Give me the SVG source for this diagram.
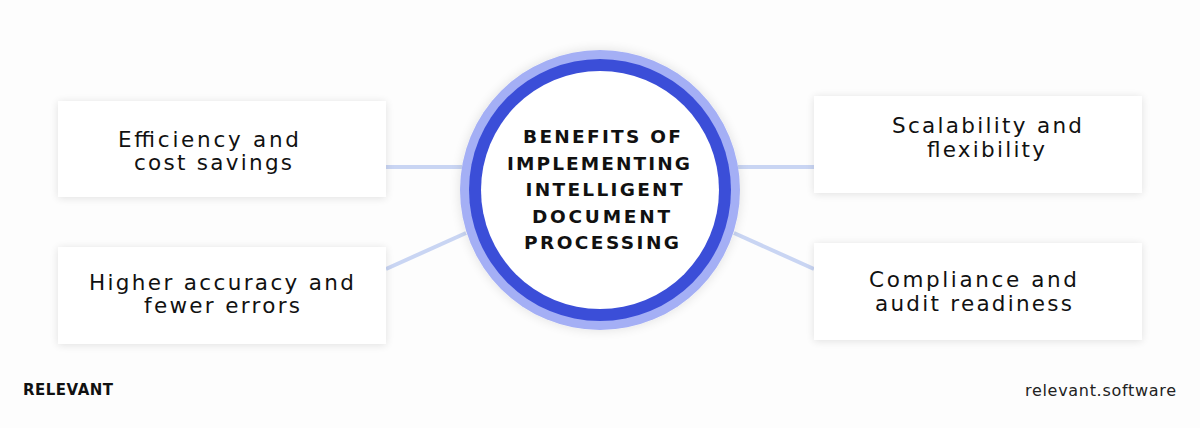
<svg xmlns="http://www.w3.org/2000/svg" width="1200" height="428" viewBox="0 0 1200 428">
  <defs>
    <filter id="shadow" x="-10%" y="-20%" width="120%" height="140%">
      <feGaussianBlur in="SourceAlpha" stdDeviation="4"/>
      <feOffset dx="0" dy="1" result="b"/>
      <feComponentTransfer><feFuncA type="linear" slope="0.12"/></feComponentTransfer>
      <feMerge><feMergeNode/><feMergeNode in="SourceGraphic"/></feMerge>
    </filter>
    <filter id="glow" x="-20%" y="-20%" width="140%" height="140%">
      <feGaussianBlur in="SourceAlpha" stdDeviation="6"/>
      <feComponentTransfer><feFuncA type="linear" slope="0.12"/></feComponentTransfer>
      <feMerge><feMergeNode/><feMergeNode in="SourceGraphic"/></feMerge>
    </filter>
  </defs>
  <style>
    .box { fill: #ffffff; filter: url(#shadow); }
    .lbl { font-family: "DejaVu Sans", "Liberation Sans", sans-serif; font-size: 21.5px; fill: #111111; text-anchor: middle; }
    .ctr { font-family: "DejaVu Sans", "Liberation Sans", sans-serif; font-size: 18.5px; font-weight: bold; fill: #111111; text-anchor: middle; }
    .conn { stroke: #c9d5f3; stroke-width: 4; fill: none; }
  </style>
  <rect x="0" y="0" width="1200" height="428" fill="#fdfdfd"/>

  <g id="connectors">
    <line class="conn" x1="386" y1="167" x2="462" y2="167"/>
    <line class="conn" x1="386" y1="269" x2="466" y2="233"/>
    <line class="conn" x1="738" y1="167" x2="814" y2="167"/>
    <line class="conn" x1="734" y1="233" x2="814" y2="269"/>
  </g>

  <g id="center">
    <circle cx="600" cy="190" r="140" fill="#a4aff5" filter="url(#glow)"/>
    <circle cx="600" cy="190" r="131" fill="#3b4ed8"/>
    <circle cx="600" cy="190" r="119" fill="#ffffff"/>
    <text class="ctr" x="602" y="143" textLength="158" lengthAdjust="spacing">BENEFITS OF</text>
    <text class="ctr" x="598.5" y="169.5" textLength="183" lengthAdjust="spacing">IMPLEMENTING</text>
    <text class="ctr" x="604" y="196" textLength="157" lengthAdjust="spacing">INTELLIGENT</text>
    <text class="ctr" x="601" y="222.5" textLength="138" lengthAdjust="spacing">DOCUMENT</text>
    <text class="ctr" x="601.5" y="249" textLength="155" lengthAdjust="spacing">PROCESSING</text>
  </g>

  <g id="efficiency">
    <rect class="box" x="58" y="101" width="328" height="96"/>
    <text class="lbl" x="208.5" y="147" textLength="181" lengthAdjust="spacing">Efficiency and</text>
    <text class="lbl" x="213" y="170" textLength="158" lengthAdjust="spacing">cost savings</text>
  </g>

  <g id="accuracy">
    <rect class="box" x="58" y="247" width="328" height="97"/>
    <text class="lbl" x="221.5" y="290" textLength="265" lengthAdjust="spacing">Higher accuracy and</text>
    <text class="lbl" x="222" y="313" textLength="156" lengthAdjust="spacing">fewer errors</text>
  </g>

  <g id="scalability">
    <rect class="box" x="814" y="96" width="328" height="97"/>
    <text class="lbl" x="987" y="133" textLength="190" lengthAdjust="spacing">Scalability and</text>
    <text class="lbl" x="986" y="157" textLength="118" lengthAdjust="spacing">flexibility</text>
  </g>

  <g id="compliance">
    <rect class="box" x="814" y="243" width="328" height="97"/>
    <text class="lbl" x="973" y="287" textLength="208" lengthAdjust="spacing">Compliance and</text>
    <text class="lbl" x="973.5" y="311" textLength="197" lengthAdjust="spacing">audit readiness</text>
  </g>

  <g id="footer">
    <text x="23" y="395" font-family="'DejaVu Sans', 'Liberation Sans', sans-serif" font-size="15" font-weight="bold" fill="#111111" textLength="90" lengthAdjust="spacing">RELEVANT</text>
    <text x="1025" y="396" font-family="'DejaVu Sans', 'Liberation Sans', sans-serif" font-size="16" fill="#222222" textLength="151" lengthAdjust="spacing">relevant.software</text>
  </g>
</svg>
